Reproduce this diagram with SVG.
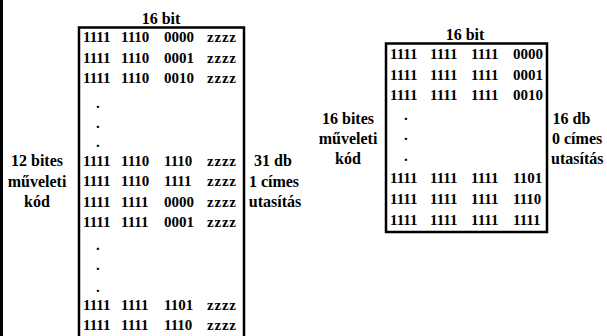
<svg xmlns="http://www.w3.org/2000/svg" width="607" height="336" viewBox="0 0 607 336">
  <style>
    .t { font-family: "Liberation Serif", "Times New Roman", serif; font-weight: bold; fill: #000; }
    .cell { font-size: 15px; }
    .lbl { font-size: 16px; text-anchor: middle; }
    .box { fill: none; stroke: #000; stroke-width: 2.5; }
  </style>
  <rect width="607" height="336" fill="#fff"/>
  <!-- page edge -->
  <rect x="0" y="0" width="3" height="336" fill="#000"/>

  <!-- 12-bit opcode table (one-address instructions) -->
  <g id="table-1cimes">
    <text class="t lbl" x="161" y="24">16 bit</text>
    <rect class="box" x="79" y="27.5" width="165" height="320"/>
    <g class="t cell">
      <text y="42"><tspan x="83">1111</tspan><tspan x="121">1110</tspan><tspan x="164">0000</tspan><tspan x="207" textLength="29" lengthAdjust="spacing">zzzz</tspan></text>
      <text y="62.5"><tspan x="83">1111</tspan><tspan x="121">1110</tspan><tspan x="164">0001</tspan><tspan x="207" textLength="29" lengthAdjust="spacing">zzzz</tspan></text>
      <text y="83"><tspan x="83">1111</tspan><tspan x="121">1110</tspan><tspan x="164">0010</tspan><tspan x="207" textLength="29" lengthAdjust="spacing">zzzz</tspan></text>
      <text x="96" y="108">.</text>
      <text x="96" y="128">.</text>
      <text x="96" y="147">.</text>
      <text y="165.5"><tspan x="83">1111</tspan><tspan x="121">1110</tspan><tspan x="164">1110</tspan><tspan x="207" textLength="29" lengthAdjust="spacing">zzzz</tspan></text>
      <text y="186"><tspan x="83">1111</tspan><tspan x="121">1110</tspan><tspan x="164">1111</tspan><tspan x="207" textLength="29" lengthAdjust="spacing">zzzz</tspan></text>
      <text y="206.5"><tspan x="83">1111</tspan><tspan x="121">1111</tspan><tspan x="164">0000</tspan><tspan x="207" textLength="29" lengthAdjust="spacing">zzzz</tspan></text>
      <text y="227"><tspan x="83">1111</tspan><tspan x="121">1111</tspan><tspan x="164">0001</tspan><tspan x="207" textLength="29" lengthAdjust="spacing">zzzz</tspan></text>
      <text x="96" y="249.5">.</text>
      <text x="96" y="269.5">.</text>
      <text x="96" y="292">.</text>
      <text y="309.5"><tspan x="83">1111</tspan><tspan x="121">1111</tspan><tspan x="164">1101</tspan><tspan x="207" textLength="29" lengthAdjust="spacing">zzzz</tspan></text>
      <text y="330"><tspan x="83">1111</tspan><tspan x="121">1111</tspan><tspan x="164">1110</tspan><tspan x="207" textLength="29" lengthAdjust="spacing">zzzz</tspan></text>
    </g>
    <g class="t lbl">
      <text x="37" y="166">12 bites</text>
      <text x="37" y="186.5">műveleti</text>
      <text x="37" y="207">kód</text>
      <text x="273" y="166">31 db</text>
      <text x="274" y="186.5">1 címes</text>
      <text x="275" y="207">utasítás</text>
    </g>
  </g>

  <!-- 16-bit opcode table (zero-address instructions) -->
  <g id="table-0cimes">
    <text class="t lbl" x="465" y="40">16 bit</text>
    <rect class="box" x="386" y="43.5" width="161" height="188.5"/>
    <g class="t cell">
      <text y="58.5"><tspan x="390">1111</tspan><tspan x="430">1111</tspan><tspan x="471">1111</tspan><tspan x="513">0000</tspan></text>
      <text y="79.5"><tspan x="390">1111</tspan><tspan x="430">1111</tspan><tspan x="471">1111</tspan><tspan x="513">0001</tspan></text>
      <text y="100"><tspan x="390">1111</tspan><tspan x="430">1111</tspan><tspan x="471">1111</tspan><tspan x="513">0010</tspan></text>
      <text x="404" y="120">.</text>
      <text x="404" y="140">.</text>
      <text x="404" y="161">.</text>
      <text y="183"><tspan x="390">1111</tspan><tspan x="430">1111</tspan><tspan x="471">1111</tspan><tspan x="513">1101</tspan></text>
      <text y="204"><tspan x="390">1111</tspan><tspan x="430">1111</tspan><tspan x="471">1111</tspan><tspan x="513">1110</tspan></text>
      <text y="224.5"><tspan x="390">1111</tspan><tspan x="430">1111</tspan><tspan x="471">1111</tspan><tspan x="513">1111</tspan></text>
    </g>
    <g class="t lbl">
      <text x="348" y="124">16 bites</text>
      <text x="348" y="144">műveleti</text>
      <text x="348" y="164">kód</text>
      <text x="571.5" y="124">16 db</text>
      <text x="552" y="144" text-anchor="start">0 címes</text>
      <text x="551" y="164" text-anchor="start">utasítás</text>
    </g>
  </g>
</svg>
